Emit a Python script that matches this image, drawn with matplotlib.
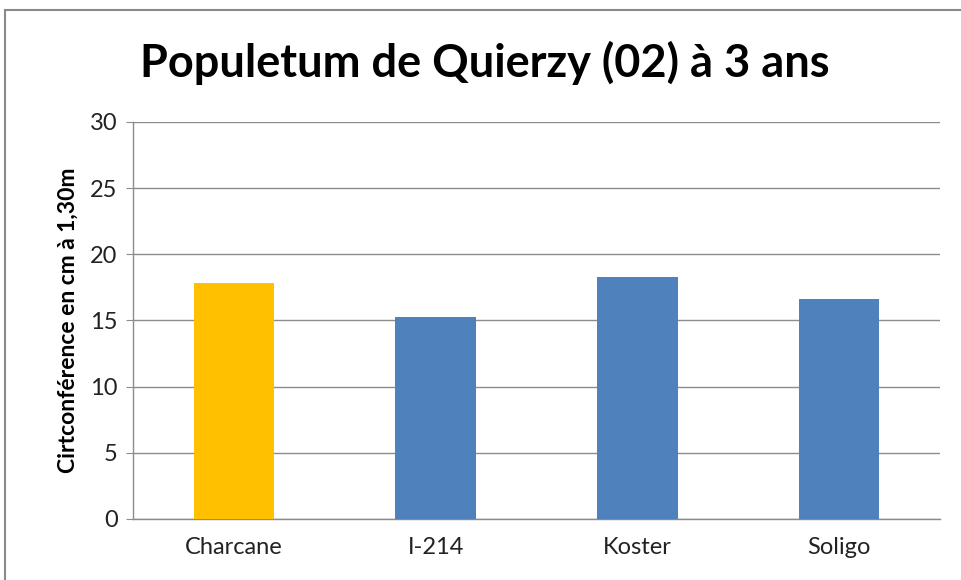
import matplotlib
matplotlib.use("Agg")
import matplotlib.pyplot as plt
from matplotlib.patches import Rectangle

# ---------------------------------------------------------------------------
# Data
# ---------------------------------------------------------------------------
clones = ["Charcane", "I-214", "Koster", "Soligo"]
circumference = [17.8, 15.3, 18.3, 16.6]
bar_colors = ["#FFC000", "#4F81BD", "#4F81BD", "#4F81BD"]
y_ticks = [0, 5, 10, 15, 20, 25, 30]

TITLE = "Populetum de Quierzy (02) à 3 ans"
Y_LABEL = "Cirtconférence en cm à 1,30m"
GRID_COLOR = "#8c8c8c"

plt.rcParams["font.family"] = ["Lato", "DejaVu Sans"]

fig = plt.figure(figsize=(9.61, 5.80), dpi=100)
ax = fig.add_axes([0.1384, 0.1052, 0.978 - 0.1384, 0.7897 - 0.1052])

# chart frame (Excel-style outer border)
fig.patches.append(Rectangle((5 / 961, -0.05), 1.1, 1 - 10 / 580 + 0.05,
                             transform=fig.transFigure, fill=False,
                             edgecolor="#8a8a8a", linewidth=1.5))

ax.bar(range(len(clones)), circumference, width=0.4, color=bar_colors, zorder=3)

ax.set_xlim(-0.5, len(clones) - 0.5)
ax.set_ylim(0, 30)
ax.set_yticks(y_ticks)
ax.set_xticks(range(len(clones)))
ax.set_xticklabels(clones)
ax.yaxis.grid(True, color=GRID_COLOR, linewidth=1.0, zorder=0)

for side in ("top", "right"):
    ax.spines[side].set_visible(False)
for side in ("left", "bottom"):
    ax.spines[side].set_color(GRID_COLOR)
    ax.spines[side].set_linewidth(1.0)

ax.tick_params(axis="y", length=5, color=GRID_COLOR, labelsize=17,
               labelcolor="#222222", pad=6)
ax.tick_params(axis="x", length=0, labelsize=17, labelcolor="#222222", pad=13)

ax.set_ylabel(Y_LABEL, fontsize=16.5, fontweight="bold", labelpad=8)
fig.text(0.505, 0.892, TITLE, ha="center", va="center",
         fontsize=32.5, fontweight="bold")

fig.savefig("out.png", dpi=100)
